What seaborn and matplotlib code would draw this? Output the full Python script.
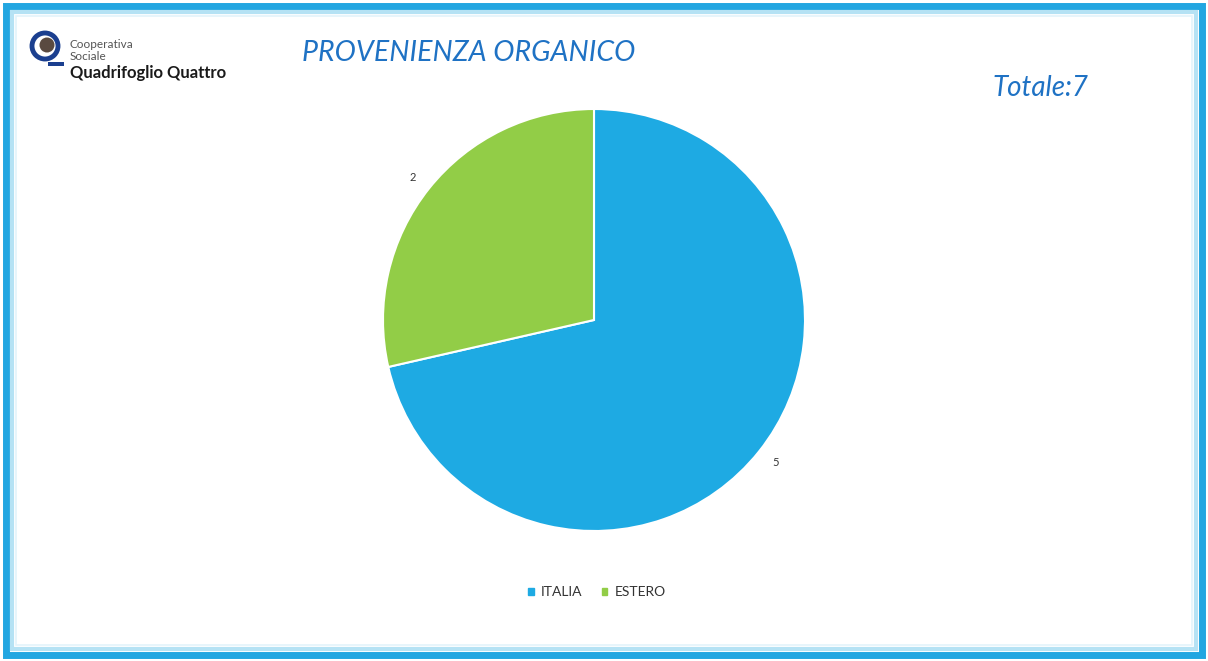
import matplotlib
matplotlib.use('Agg')
import matplotlib.pyplot as plt
import matplotlib.patches as mpatches
import seaborn as sns

# data
categories = ['ITALIA', 'ESTERO']
counts = [5, 2]
colors = ['#1EAAE3', '#92CD47']
title = 'PROVENIENZA ORGANICO'
total_label = 'Totale:' + str(sum(counts))

sns.set_theme(style='white')
plt.rcParams['font.family'] = ['Lato', 'DejaVu Sans']

W, H = 1208, 661
fig = plt.figure(figsize=(W / 100, H / 100), dpi=100)
fig.patch.set_facecolor('white')

# frame (outer blue band + light inner band)
def frame(x0, y0, x1, y1, color, lw):
    fig.patches.append(mpatches.Rectangle(
        (x0 / W, 1 - y1 / H), (x1 - x0) / W, (y1 - y0) / H,
        transform=fig.transFigure, fill=False, edgecolor=color, linewidth=lw))

frame(6, 6, 1202, 655, '#22A6E1', 5)
frame(12, 12, 1196, 649, '#B5E2F4', 3)
frame(16, 16, 1192, 645, '#E3F4FB', 1.2)

# pie
cx, cy, r = 594, 320, 211
span = 2.4
ax = fig.add_axes([(cx - r * span / 2) / W, (H - cy - r * span / 2) / H,
                   r * span / W, r * span / H])
wedges, texts = ax.pie(counts, labels=[str(c) for c in counts], colors=colors,
                       startangle=90, counterclock=False, labeldistance=1.08,
                       wedgeprops=dict(edgecolor='white', linewidth=1.5),
                       textprops=dict(fontsize=8, color='#333333'))
ax.set_xlim(-span / 2, span / 2)
ax.set_ylim(-span / 2, span / 2)
ax.set_aspect('equal')
ax.axis('off')

# legend
handles = [mpatches.Patch(color=c, label=l) for c, l in zip(colors, categories)]
fig.legend(handles=handles, loc='center', bbox_to_anchor=(597 / W, 1 - 592 / H),
           ncol=2, frameon=False, fontsize=10, handlelength=0.4, handleheight=0.4,
           handletextpad=0.5, columnspacing=1.4, labelcolor='#333333')

# titles
fig.text(302 / W, 1 - 53 / H, title, ha='left', va='center', fontsize=20.5,
         style='italic', color='#1F72C4')
fig.text(992 / W, 1 - 88 / H, total_label, ha='left', va='center', fontsize=20,
         style='italic', color='#1F72C4')

# logo
fig.patches.append(mpatches.Ellipse((45 / W, 1 - 46 / H), 26 / W, 26 / H,
                                    transform=fig.transFigure, fill=False,
                                    edgecolor='#1B3F8F', linewidth=3.5))
fig.patches.append(mpatches.Ellipse((47 / W, 1 - 45 / H), 15 / W, 15 / H,
                                    transform=fig.transFigure,
                                    facecolor='#5A4A40', edgecolor='none'))
fig.patches.append(mpatches.Rectangle((48 / W, 1 - 66 / H), 16 / W, 4 / H,
                                      transform=fig.transFigure,
                                      facecolor='#1B3F8F', edgecolor='none'))
fig.text(70 / W, 1 - 44 / H, 'Cooperativa', fontsize=8.5, color='#555555', va='center')
fig.text(70 / W, 1 - 56 / H, 'Sociale', fontsize=8.5, color='#555555', va='center')
fig.text(70 / W, 1 - 73 / H, 'Quadrifoglio Quattro', fontsize=12, fontweight='bold',
         color='#1A1A1A', va='center')

plt.savefig('out.png', dpi=100, facecolor='white')
